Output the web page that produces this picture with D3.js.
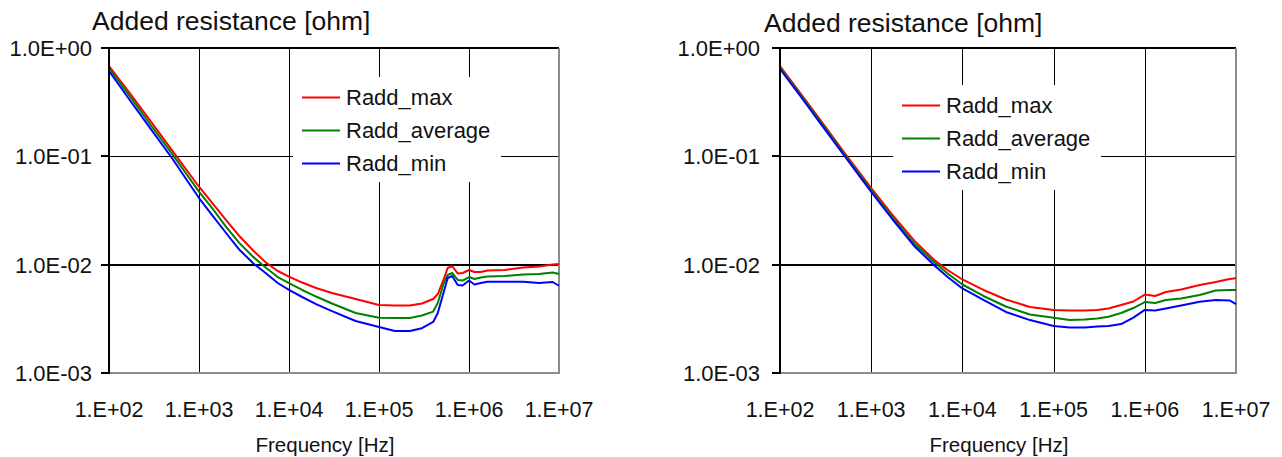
<!DOCTYPE html>
<html>
<head>
<meta charset="utf-8">
<script src="https://cdn.jsdelivr.net/npm/d3@7"></script>
<style>
  body { margin: 0; background: #fff; }
  svg { display: block; font-family: "Liberation Sans", Arial, sans-serif; }
</style>
</head>
<body>
<div id="chart"></div>
<script>
// values
const seriesNames = ["Radd_max", "Radd_average", "Radd_min"];
const seriesColors = ["#ff0000", "#008000", "#0000ff"];
const xTicks = [1e2, 1e3, 1e4, 1e5, 1e6, 1e7];
const xTickLabels = ["1.E+02", "1.E+03", "1.E+04", "1.E+05", "1.E+06", "1.E+07"];
const yTicks = [1, 0.1, 0.01, 0.001];
const yTickLabels = ["1.0E+00", "1.0E-01", "1.0E-02", "1.0E-03"];

// left panel
const freqLeft = [100, 170, 280, 500, 1000, 1400, 2000, 2800, 4000, 5500, 7500, 10000, 14000, 20000, 30000, 55000,
  100000, 150000, 220000, 300000, 400000, 450000, 520000, 580000, 650000, 750000, 850000,
  1000000, 1150000, 1350000, 1600000, 2500000, 4000000, 6000000, 8500000, 10000000];
const raddMaxLeft = [0.682, 0.384, 0.219, 0.114, 0.0524, 0.0371, 0.0258, 0.0184, 0.0135, 0.0105, 0.00874, 0.00777, 0.00684, 0.00609, 0.00548, 0.00482,
  0.00424, 0.00420, 0.00420, 0.00438, 0.00482, 0.00536, 0.00722, 0.00931, 0.00972, 0.00829, 0.00838,
  0.00893, 0.00855, 0.00855, 0.00883, 0.00893, 0.00941, 0.00962, 0.01003, 0.01014];
const raddAvgLeft = [0.654, 0.360, 0.203, 0.106, 0.0473, 0.0333, 0.0223, 0.0159, 0.0118, 0.00941, 0.00769, 0.00677, 0.00584, 0.00508, 0.00438, 0.00358,
  0.00324, 0.00322, 0.00322, 0.00339, 0.00369, 0.00443, 0.00663, 0.00803, 0.00838, 0.00722, 0.00714,
  0.00769, 0.00737, 0.00761, 0.00777, 0.00786, 0.00811, 0.00820, 0.00847, 0.00820];
const raddMinLeft = [0.613, 0.331, 0.187, 0.0965, 0.0412, 0.0287, 0.0196, 0.0138, 0.0103, 0.00838, 0.00677, 0.00584, 0.00503, 0.00433, 0.00373, 0.00302,
  0.00266, 0.00244, 0.00244, 0.00259, 0.00296, 0.00358, 0.00548, 0.00753, 0.00786, 0.00649, 0.00642,
  0.00714, 0.00656, 0.00677, 0.00696, 0.00696, 0.00696, 0.00677, 0.00692, 0.00639];

// right panel
const freqRight = [100, 170, 280, 500, 1000, 1700, 3000, 5000, 7000, 10000, 17000, 30000, 55000,
  100000, 150000, 220000, 300000, 400000, 550000, 750000, 1000000, 1300000, 1700000, 2500000,
  4000000, 6000000, 8500000, 10000000];
const raddMaxRight = [0.682, 0.376, 0.214, 0.110, 0.0510, 0.0290, 0.0165, 0.0109, 0.00883, 0.00730, 0.00584, 0.00477, 0.00407,
  0.00382, 0.00378, 0.00378, 0.00382, 0.00394, 0.00424, 0.00457, 0.00530, 0.00514, 0.00559, 0.00590,
  0.00649, 0.00692, 0.00737, 0.00748];
const raddAvgRight = [0.661, 0.364, 0.207, 0.106, 0.0489, 0.0275, 0.0155, 0.0104, 0.00820, 0.00656, 0.00514, 0.00411, 0.00347,
  0.00324, 0.00308, 0.00312, 0.00318, 0.00331, 0.00358, 0.00398, 0.00452, 0.00443, 0.00472, 0.00487,
  0.00525, 0.00578, 0.00584, 0.00584];
const raddMinRight = [0.640, 0.353, 0.199, 0.103, 0.0469, 0.0264, 0.0147, 0.00972, 0.00761, 0.00603, 0.00472, 0.00366, 0.00308,
  0.00272, 0.00263, 0.00263, 0.00268, 0.00272, 0.00283, 0.00325, 0.00382, 0.00378, 0.00394, 0.00420,
  0.00455, 0.00472, 0.00467, 0.00433];

const svg = d3.select("#chart").append("svg")
    .attr("width", 1282)
    .attr("height", 457);

function drawPanel(p) {
    const g = svg.append("g")
        .attr("transform", "translate(" + p.left + "," + p.top + ")");

    const x = d3.scaleLog().domain([1e2, 1e7]).range([0, p.width]);
    const y = d3.scaleLog().domain([1e-3, 1]).range([p.height, 0]);

    // title
    svg.append("text")
        .attr("x", p.titleX)
        .attr("y", p.titleY)
        .style("font-size", "26.5px")
        .style("fill", "#111")
        .text("Added resistance [ohm]");

    // vertical grid lines
    g.selectAll(".vgrid")
        .data(xTicks.slice(1, -1))
        .enter().append("line")
        .attr("x1", d => Math.round(x(d)) + 0.5)
        .attr("x2", d => Math.round(x(d)) + 0.5)
        .attr("y1", 0)
        .attr("y2", p.height)
        .style("stroke", "#000")
        .style("stroke-width", 1);

    // horizontal grid lines (1E-01 is thin, the others heavy)
    g.selectAll(".hgrid")
        .data(yTicks.slice(0, -1))
        .enter().append("line")
        .attr("x1", 0)
        .attr("x2", p.width)
        .attr("y1", d => d === 0.1 ? Math.round(y(d)) + 0.5 : Math.round(y(d)))
        .attr("y2", d => d === 0.1 ? Math.round(y(d)) + 0.5 : Math.round(y(d)))
        .style("stroke", "#000")
        .style("stroke-width", d => d === 0.1 ? 1 : 2);

    // grey frame at bottom and right
    g.append("path")
        .attr("d", "M0," + p.height + "H" + p.width + "V0")
        .style("fill", "none")
        .style("stroke", "#8c8c8c")
        .style("stroke-width", 2);

    // series
    const line = d3.line()
        .x(d => x(d[0]))
        .y(d => y(d[1]));

    p.series.forEach((vals, i) => {
        g.append("path")
            .datum(p.freq.map((f, k) => [f, vals[k]]))
            .attr("d", line)
            .style("fill", "none")
            .style("stroke", seriesColors[i])
            .style("stroke-width", 2)
            .style("stroke-linejoin", "round");
    });

    // left axis with outside ticks
    g.append("line")
        .attr("x1", 0).attr("x2", 0)
        .attr("y1", -1).attr("y2", p.height + 1)
        .style("stroke", "#000")
        .style("stroke-width", 2);

    g.selectAll(".ytick")
        .data(yTicks)
        .enter().append("line")
        .attr("x1", -8).attr("x2", 0)
        .attr("y1", d => Math.round(y(d)))
        .attr("y2", d => Math.round(y(d)))
        .style("stroke", "#000")
        .style("stroke-width", 2);

    g.selectAll(".ylab")
        .data(yTicks)
        .enter().append("text")
        .attr("x", -p.yLabelGap)
        .attr("y", d => y(d))
        .attr("dy", "0.36em")
        .style("text-anchor", "end")
        .style("font-size", "22px")
        .style("fill", "#111")
        .text((d, i) => yTickLabels[i]);

    g.selectAll(".xlab")
        .data(xTicks)
        .enter().append("text")
        .attr("x", d => x(d))
        .attr("y", p.height + 43.5)
        .style("text-anchor", "middle")
        .style("font-size", "21.5px")
        .style("fill", "#111")
        .text((d, i) => xTickLabels[i]);

    g.append("text")
        .attr("x", p.width / 2 - 9)
        .attr("y", p.height + 79)
        .style("text-anchor", "middle")
        .style("font-size", "20.5px")
        .style("fill", "#111")
        .text("Frequency [Hz]");

    // legend on a white box
    const lg = svg.append("g")
        .attr("transform", "translate(" + p.legendX + "," + p.legendY + ")");
    lg.append("rect")
        .attr("width", 208)
        .attr("height", 105)
        .style("fill", "#fff");
    seriesNames.forEach((name, i) => {
        const ry = 20.5 + i * 33;
        lg.append("line")
            .attr("x1", 9).attr("x2", 47)
            .attr("y1", ry).attr("y2", ry)
            .style("stroke", seriesColors[i])
            .style("stroke-width", 2);
        lg.append("text")
            .attr("x", 53)
            .attr("y", ry)
            .attr("dy", "0.36em")
            .style("font-size", "22px")
            .style("fill", "#111")
            .text(name);
    });
}

drawPanel({
    left: 109, top: 48, width: 450, height: 325,
    titleX: 92, titleY: 29.5, yLabelGap: 17,
    legendX: 293, legendY: 77,
    freq: freqLeft,
    series: [raddMaxLeft, raddAvgLeft, raddMinLeft]
});

drawPanel({
    left: 780, top: 48, width: 456, height: 325,
    titleX: 764, titleY: 32, yLabelGap: 20,
    legendX: 893, legendY: 85,
    freq: freqRight,
    series: [raddMaxRight, raddAvgRight, raddMinRight]
});
</script>
</body>
</html>
